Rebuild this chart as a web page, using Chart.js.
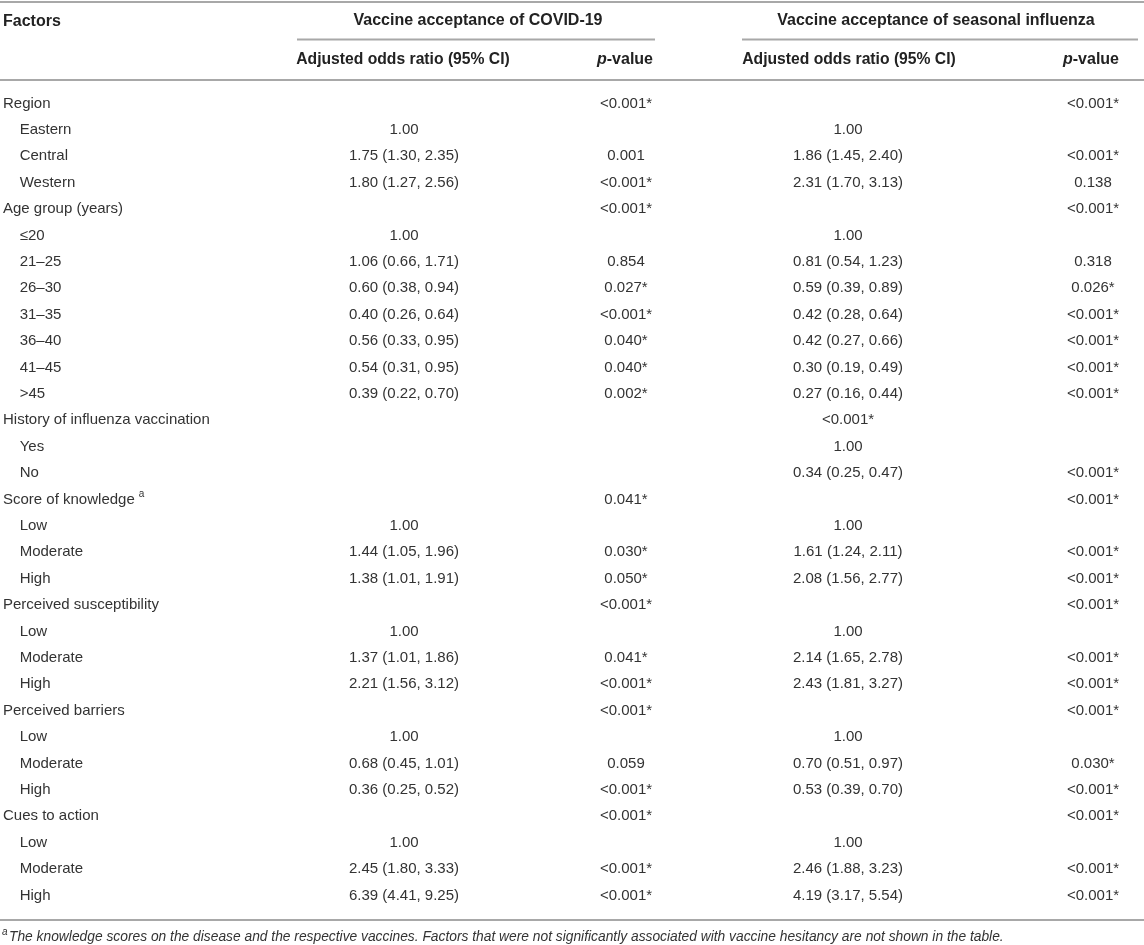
<!DOCTYPE html>
<html>
<head>
<meta charset="utf-8">
<script src="https://cdn.jsdelivr.net/npm/chart.js@4.4.1/dist/chart.umd.min.js"></script>
<style>
  body { margin: 0; background: #fff; }
</style>
</head>
<body>
<canvas id="oddsTable" width="1144" height="945"></canvas>
<script>
// rows of the table (factor / level), indent 1 = level under a factor
var factors = ['Region', 'Eastern', 'Central', 'Western',
  'Age group (years)', '\u226420', '21\u201325', '26\u201330', '31\u201335', '36\u201340', '41\u201345', '>45',
  'History of influenza vaccination', 'Yes', 'No',
  'Score of knowledge', 'Low', 'Moderate', 'High',
  'Perceived susceptibility', 'Low', 'Moderate', 'High',
  'Perceived barriers', 'Low', 'Moderate', 'High',
  'Cues to action', 'Low', 'Moderate', 'High'];
var indent = [0, 1, 1, 1, 0, 1, 1, 1, 1, 1, 1, 1, 0, 1, 1, 0, 1, 1, 1, 0, 1, 1, 1, 0, 1, 1, 1, 0, 1, 1, 1];

var covidOR = ['', '1.00', '1.75 (1.30, 2.35)', '1.80 (1.27, 2.56)',
  '', '1.00', '1.06 (0.66, 1.71)', '0.60 (0.38, 0.94)', '0.40 (0.26, 0.64)', '0.56 (0.33, 0.95)', '0.54 (0.31, 0.95)', '0.39 (0.22, 0.70)',
  '', '', '',
  '', '1.00', '1.44 (1.05, 1.96)', '1.38 (1.01, 1.91)',
  '', '1.00', '1.37 (1.01, 1.86)', '2.21 (1.56, 3.12)',
  '', '1.00', '0.68 (0.45, 1.01)', '0.36 (0.25, 0.52)',
  '', '1.00', '2.45 (1.80, 3.33)', '6.39 (4.41, 9.25)'];
var covidP = ['<0.001*', '', '0.001', '<0.001*',
  '<0.001*', '', '0.854', '0.027*', '<0.001*', '0.040*', '0.040*', '0.002*',
  '', '', '',
  '0.041*', '', '0.030*', '0.050*',
  '<0.001*', '', '0.041*', '<0.001*',
  '<0.001*', '', '0.059', '<0.001*',
  '<0.001*', '', '<0.001*', '<0.001*'];
var fluOR = ['', '1.00', '1.86 (1.45, 2.40)', '2.31 (1.70, 3.13)',
  '', '1.00', '0.81 (0.54, 1.23)', '0.59 (0.39, 0.89)', '0.42 (0.28, 0.64)', '0.42 (0.27, 0.66)', '0.30 (0.19, 0.49)', '0.27 (0.16, 0.44)',
  '<0.001*', '1.00', '0.34 (0.25, 0.47)',
  '', '1.00', '1.61 (1.24, 2.11)', '2.08 (1.56, 2.77)',
  '', '1.00', '2.14 (1.65, 2.78)', '2.43 (1.81, 3.27)',
  '', '1.00', '0.70 (0.51, 0.97)', '0.53 (0.39, 0.70)',
  '', '1.00', '2.46 (1.88, 3.23)', '4.19 (3.17, 5.54)'];
var fluP = ['<0.001*', '', '<0.001*', '0.138',
  '<0.001*', '', '0.318', '0.026*', '<0.001*', '<0.001*', '<0.001*', '<0.001*',
  '', '', '<0.001*',
  '<0.001*', '', '<0.001*', '<0.001*',
  '<0.001*', '', '<0.001*', '<0.001*',
  '<0.001*', '', '0.030*', '<0.001*',
  '<0.001*', '', '<0.001*', '<0.001*'];

var groupTitles = ['Vaccine acceptance of COVID-19', 'Vaccine acceptance of seasonal influenza'];
var footnote = 'The knowledge scores on the disease and the respective vaccines. Factors that were not significantly associated with vaccine hesitancy are not shown in the table.';

var FONT = '"Liberation Sans", Arial, sans-serif';
var textColor = '#333',
    headColor = '#222',
    ruleColor = '#a8a8a8';

function rule(ctx, x1, x2, y) {
  ctx.beginPath();
  ctx.moveTo(x1, y);
  ctx.lineTo(x2, y);
  ctx.stroke();
}

function pValueHead(ctx, right, y) {
  ctx.textAlign = 'right';
  ctx.font = 'bold 16px ' + FONT;
  ctx.fillText('-value', right, y);
  var w = ctx.measureText('-value').width;
  ctx.font = 'italic bold 16px ' + FONT;
  ctx.fillText('p', right - w, y);
}

var tablePlugin = {
  id: 'tableCells',
  afterDraw: function(chart) {
    var ctx = chart.ctx,
        yScale = chart.scales.y;
    ctx.save();

    // rules
    ctx.strokeStyle = ruleColor;
    ctx.lineWidth = 2;
    rule(ctx, 0, 1144, 2);
    rule(ctx, 297, 655, 39.5);
    rule(ctx, 742, 1138, 39.5);
    rule(ctx, 0, 1144, 80);
    rule(ctx, 0, 1144, 920);

    // header
    ctx.fillStyle = headColor;
    ctx.textBaseline = 'middle';
    ctx.font = 'bold 16px ' + FONT;
    ctx.textAlign = 'left';
    ctx.fillText('Factors', 3, 22);
    ctx.textAlign = 'center';
    ctx.fillText(groupTitles[0], 478, 21);
    ctx.fillText(groupTitles[1], 936, 21);
    ctx.font = 'bold 15.7px ' + FONT;
    ctx.fillText('Adjusted odds ratio (95% CI)', 403, 60);
    ctx.fillText('Adjusted odds ratio (95% CI)', 849, 60);
    pValueHead(ctx, 653, 60);
    pValueHead(ctx, 1119, 60);

    // cells
    ctx.fillStyle = textColor;
    ctx.font = '15px ' + FONT;
    ctx.textAlign = 'center';
    factors.forEach(function(f, i) {
      var y = yScale.getPixelForValue(i);
      ctx.fillText(covidOR[i], 404, y);
      ctx.fillText(covidP[i], 626, y);
      ctx.fillText(fluOR[i], 848, y);
      ctx.fillText(fluP[i], 1093, y);
    });

    // superscript a on "Score of knowledge"
    var k = factors.indexOf('Score of knowledge');
    var w = ctx.measureText(factors[k]).width;
    ctx.font = '10px ' + FONT;
    ctx.textAlign = 'left';
    ctx.fillText('a', 3 + w + 4, yScale.getPixelForValue(k) - 5);

    // footnote
    ctx.font = 'italic 10px ' + FONT;
    ctx.fillText('a', 2, 932);
    ctx.font = 'italic 13.8px ' + FONT;
    ctx.fillText(footnote, 9, 937);

    ctx.restore();
  }
};

new Chart(document.getElementById('oddsTable'), {
  type: 'scatter',
  data: { labels: factors, datasets: [{ data: [] }] },
  options: {
    responsive: false,
    animation: false,
    events: [],
    layout: { padding: { left: 3, top: 103.5, bottom: 49.5, right: 0 } },
    plugins: { legend: { display: false }, tooltip: { enabled: false } },
    scales: {
      x: { type: 'linear', display: false, min: 0, max: 1 },
      y: {
        type: 'category',
        labels: factors,
        offset: false,
        grid: { display: false },
        border: { display: false },
        ticks: {
          autoSkip: false,
          crossAlign: 'far',
          padding: 0,
          color: textColor,
          font: { family: FONT, size: 15 },
          callback: function(value, index) {
            return (indent[index] ? '    ' : '') + factors[index];
          }
        }
      }
    }
  },
  plugins: [tablePlugin]
});
</script>
</body>
</html>
